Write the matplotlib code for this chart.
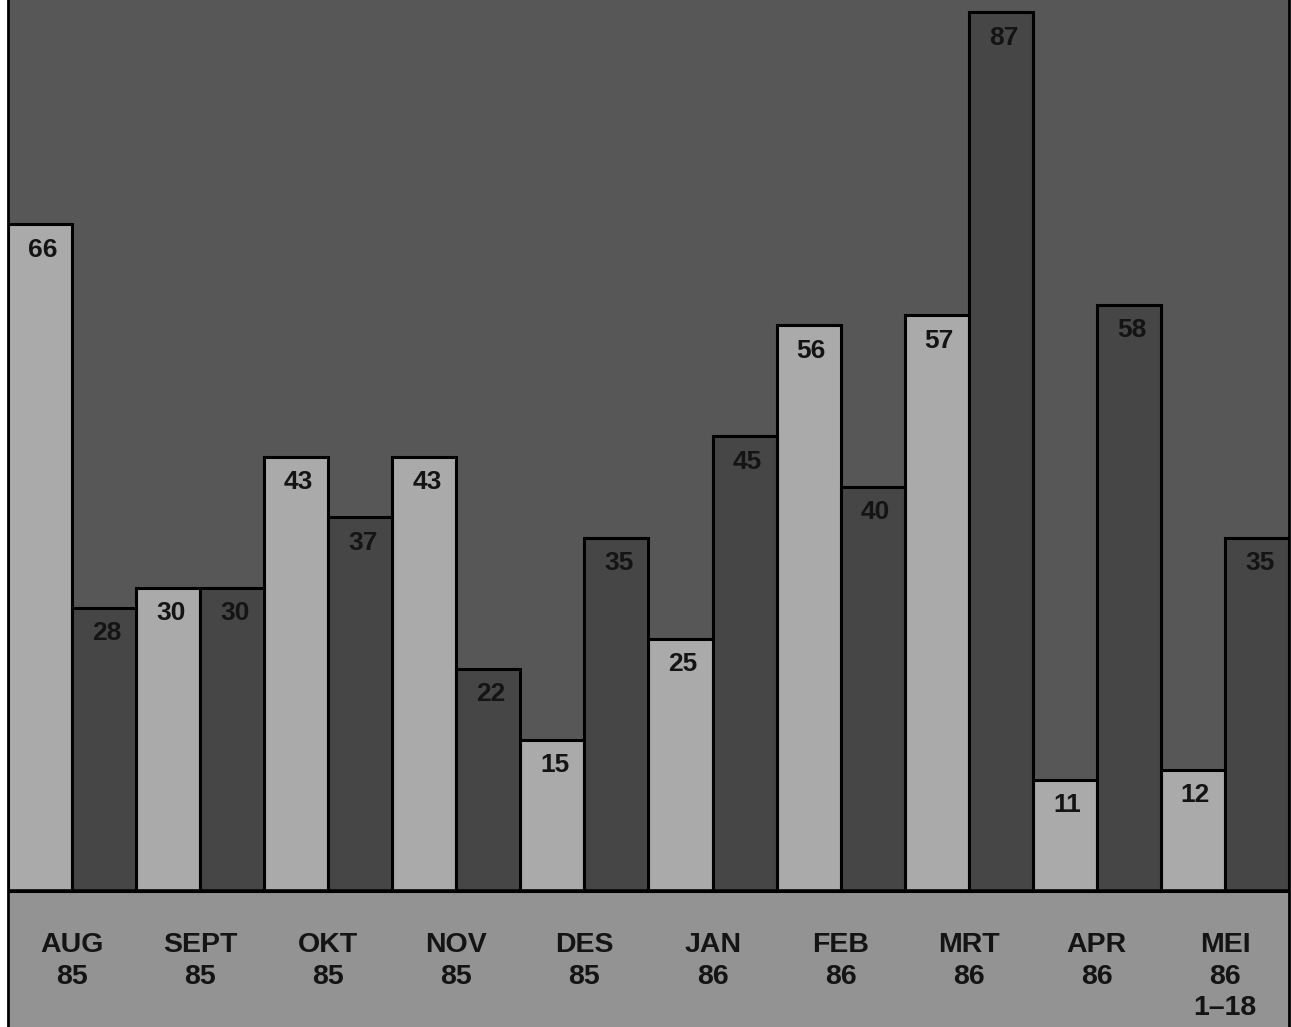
import matplotlib
matplotlib.use("Agg")
import matplotlib.pyplot as plt
import numpy as np

# Monthly counts, two series per month
months = ["AUG", "SEPT", "OKT", "NOV", "DES", "JAN", "FEB", "MRT", "APR", "MEI"]
years = ["85", "85", "85", "85", "85", "86", "86", "86", "86", "86"]
notes = ["", "", "", "", "", "", "", "", "", "1–18"]
light_vals = [66, 30, 43, 43, 15, 25, 56, 57, 11, 12]
dark_vals = [28, 30, 37, 22, 35, 45, 40, 87, 58, 35]

BG = "#575757"
LIGHT = "#aaaaaa"
DARK = "#464646"
BAND = "#939393"
INK = "#141414"
FONT = "Liberation Sans"

W, H = 1291, 1027
fig = plt.figure(figsize=(W / 100, H / 100), dpi=100, facecolor="white")
ax = fig.add_axes([8 / W, 0, 1281 / W, 1])

px_per_unit = 10.1
base_px = 891  # baseline, pixels from top
ax.set_xlim(-0.5, len(months) - 0.5)
ax.set_ylim(-(H - base_px) / px_per_unit, base_px / px_per_unit)
ax.set_facecolor(BG)

# Lower label band
ax.axhspan(ax.get_ylim()[0], 0, color=BAND, zorder=1)

x = np.arange(len(months))
bw = 0.5
ax.bar(x - bw / 2, light_vals, width=bw, color=LIGHT, edgecolor="black",
       linewidth=2.2, zorder=3)
ax.bar(x + bw / 2, dark_vals, width=bw, color=DARK, edgecolor="black",
       linewidth=2.2, zorder=3)
ax.axhline(0, color="black", linewidth=2.6, zorder=4)

value_kw = dict(ha="center", va="center", fontsize=19, fontweight="bold",
                family=FONT, color=INK, zorder=5)
for xi, v in zip(x, light_vals):
    ax.text(xi - bw / 2 + 0.02, v - 2.5, str(v), **value_kw)
for xi, v in zip(x, dark_vals):
    ax.text(xi + bw / 2 + 0.02, v - 2.5, str(v), **value_kw)

month_kw = dict(value_kw, fontsize=20.5)
for xi, m, yr, nt in zip(x, months, years, notes):
    ax.text(xi, -5.35, m, **month_kw)
    ax.text(xi, -8.5, yr, **month_kw)
    if nt:
        ax.text(xi, -11.6, nt, **month_kw)

ax.set_xticks([])
ax.set_yticks([])
for side in ("top", "bottom"):
    ax.spines[side].set_visible(False)
for side in ("left", "right"):
    ax.spines[side].set_color("black")
    ax.spines[side].set_linewidth(2)

fig.savefig("out.png", dpi=100, facecolor="white")
